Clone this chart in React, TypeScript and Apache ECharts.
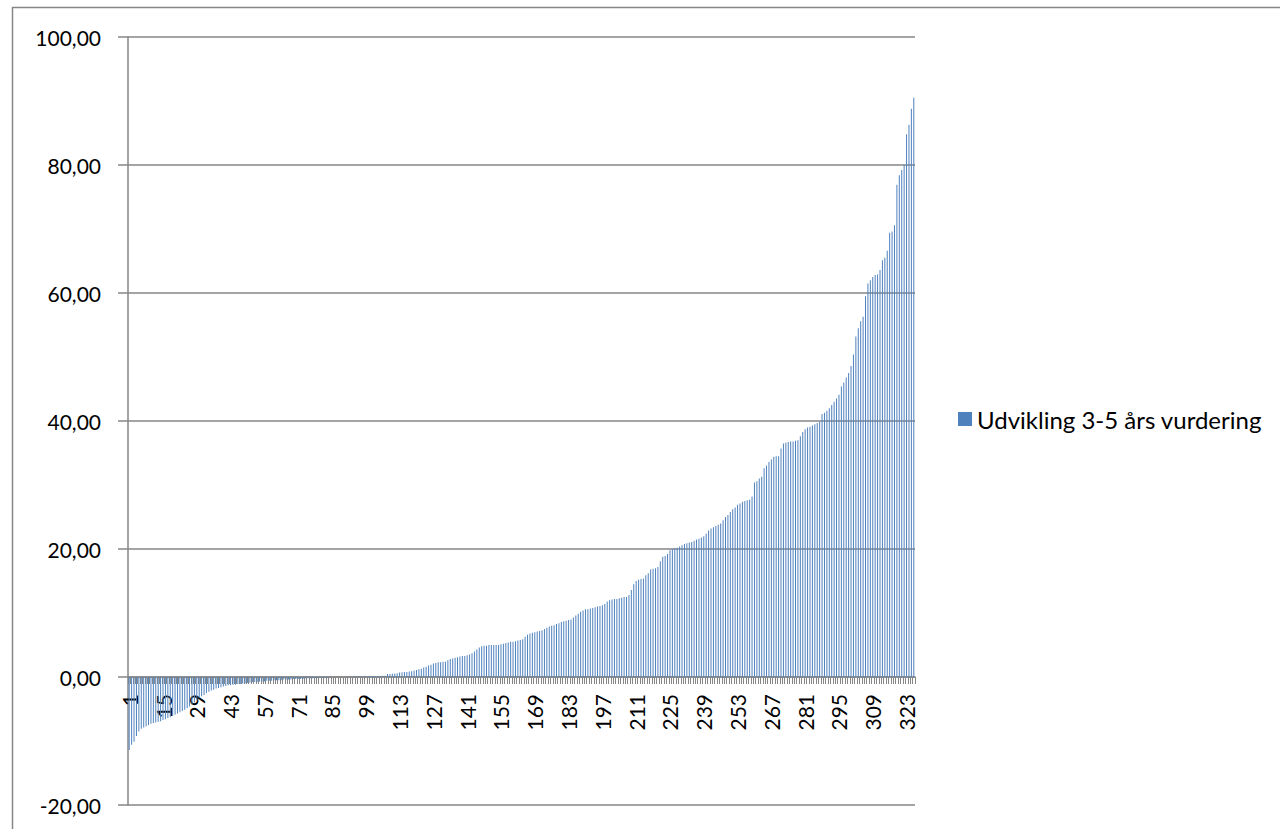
import React, { useEffect, useRef } from "react";
import * as echarts from "echarts";

const seriesName = "Udvikling 3-5 års vurdering";

const values: number[] = [
  -11.4, -10.6, -10.1, -9.2, -8.5, -8.1, -7.9, -7.7, -7.5, -7.3,
  -7.2, -7.1, -7.0, -6.9, -6.7, -6.6, -6.4, -6.3, -6.1, -5.9,
  -5.7, -5.5, -5.3, -5.1, -4.9, -4.6, -4.3, -4.0, -3.6, -3.3,
  -3.0, -2.8, -2.5, -2.3, -2.1, -2.0, -1.8, -1.7, -1.6, -1.5,
  -1.4, -1.3, -1.3, -1.2, -1.2, -1.1, -1.1, -1.0, -1.0, -0.9,
  -0.9, -0.8, -0.8, -0.8, -0.7, -0.7, -0.7, -0.6, -0.6, -0.6,
  -0.5, -0.5, -0.5, -0.5, -0.4, -0.4, -0.4, -0.4, -0.3, -0.3,
  -0.3, -0.3, -0.3, -0.2, -0.2, -0.2, -0.2, -0.2, -0.1, -0.1,
  -0.1, -0.1, -0.1, -0.1, 0, 0, 0, 0, 0, 0,
  0.05, 0.05, 0.05, 0.1, 0.1, 0.1, 0.1, 0.1, 0.12, 0.12,
  0.15, 0.15, 0.15, 0.15, 0.15, 0.2, 0.2, 0.45, 0.47, 0.5,
  0.55, 0.6, 0.7, 0.75, 0.8, 0.8, 0.85, 0.9, 1.0, 1.1,
  1.2, 1.3, 1.5, 1.6, 1.8, 1.9, 2.1, 2.2, 2.3, 2.3,
  2.4, 2.4, 2.6, 2.8, 2.9, 3.0, 3.1, 3.2, 3.3, 3.3,
  3.4, 3.5, 3.7, 4.0, 4.3, 4.6, 4.8, 4.9, 4.9, 5.0,
  5.0, 5.0, 5.0, 5.0, 5.1, 5.2, 5.3, 5.4, 5.5, 5.5,
  5.6, 5.7, 5.8, 5.9, 6.3, 6.6, 6.8, 6.9, 7.0, 7.1,
  7.2, 7.3, 7.5, 7.7, 7.9, 8.0, 8.1, 8.3, 8.4, 8.6,
  8.7, 8.8, 8.9, 9.0, 9.3, 9.6, 9.9, 10.2, 10.4, 10.6,
  10.6, 10.7, 10.8, 10.9, 11.0, 11.1, 11.2, 11.4, 11.8, 12.0,
  12.1, 12.2, 12.2, 12.3, 12.4, 12.5, 12.5, 12.8, 13.6, 14.5,
  15.0, 15.2, 15.3, 15.4, 15.9, 16.2, 16.8, 16.9, 17.0, 17.2,
  18.1, 18.8, 18.9, 19.2, 19.8, 20.0, 20.1, 20.2, 20.4, 20.6,
  20.8, 20.9, 21.0, 21.1, 21.3, 21.5, 21.6, 21.8, 22.0, 22.4,
  22.9, 23.2, 23.4, 23.6, 23.8, 24.0, 24.5, 25.0, 25.3, 25.8,
  26.2, 26.5, 26.9, 27.1, 27.4, 27.5, 27.6, 27.7, 28.2, 30.4,
  30.6, 31.0, 31.3, 32.6, 33.0, 33.6, 34.0, 34.4, 34.5, 34.5,
  35.7, 36.5, 36.6, 36.7, 36.8, 36.8, 36.9, 37.0, 37.6, 38.3,
  38.7, 39.0, 39.1, 39.3, 39.5, 39.7, 39.9, 41.1, 41.3, 41.6,
  42.0, 42.5, 43.0, 43.5, 44.1, 45.4, 46.0, 46.8, 47.5, 48.6,
  50.4, 53.2, 54.5, 55.6, 56.3, 59.5, 61.5, 62.0, 62.5, 62.8,
  62.9, 63.6, 65.1, 65.5, 66.6, 69.4, 69.6, 70.6, 76.9, 78.4,
  79.2, 80.0, 84.8, 86.3, 88.8, 90.5,
];

const categories: string[] = values.map((_, i) => String(i + 1));

const yMin = -20;
const yMax = 100;
const yStep = 20;

const FONT = "Lato, 'Open Sans', sans-serif";
const AXIS_GREY = "#868686";

const GRID_TOP = 37;
const GRID_BOTTOM = 24;
const CHART_H = 829;
const PLOT_H = CHART_H - GRID_TOP - GRID_BOTTOM;
// category axis sits on the value axis' zero line
const zeroOffset = -((0 - yMin) / (yMax - yMin)) * PLOT_H;

export default function App() {
  const ref = useRef<HTMLDivElement>(null);

  useEffect(() => {
    if (!ref.current) return;
    const chart = echarts.init(ref.current, undefined, { renderer: "svg" });
    chart.setOption({
      animation: false,
      backgroundColor: "#ffffff",
      graphic: [
        {
          type: "rect",
          shape: { x: 12.5, y: 7.5, width: 1400, height: 900 },
          style: { fill: "none", stroke: AXIS_GREY, lineWidth: 1.5 },
          silent: true,
        },
      ],
      legend: {
        show: true,
        left: 958,
        top: 407,
        padding: 0,
        itemWidth: 14,
        itemHeight: 14,
        icon: "rect",
        textStyle: { fontFamily: FONT, fontSize: 24, color: "#000" },
        data: [seriesName],
      },
      grid: {
        left: 128,
        right: 365,
        top: GRID_TOP,
        bottom: GRID_BOTTOM,
        containLabel: false,
        outerBoundsMode: "none",
      },
      xAxis: {
        type: "category",
        data: categories,
        offset: zeroOffset,
        axisLine: { show: true, onZero: false, lineStyle: { color: AXIS_GREY, width: 1.5 } },
        axisTick: {
          show: true,
          interval: 0,
          length: 7,
          alignWithLabel: false,
          lineStyle: { color: AXIS_GREY, width: 1 },
        },
        axisLabel: {
          interval: 13,
          rotate: 90,
          margin: 17,
          fontFamily: FONT,
          fontSize: 21,
          color: "#000",
        },
        splitLine: { show: false },
      },
      yAxis: {
        type: "value",
        min: yMin,
        max: yMax,
        interval: yStep,
        axisLine: { show: true, lineStyle: { color: AXIS_GREY, width: 1.5 } },
        axisTick: { show: true, length: 10, lineStyle: { color: AXIS_GREY, width: 1.5 } },
        axisLabel: {
          margin: 27,
          fontFamily: FONT,
          fontSize: 21,
          color: "#000",
          formatter: (v: number) => v.toFixed(2).replace(".", ","),
        },
        splitLine: { show: true, lineStyle: { color: AXIS_GREY, width: 1.5 } },
      },
      series: [
        {
          name: seriesName,
          type: "bar",
          data: values,
          barWidth: 1,
          itemStyle: { color: "#4F81BD" },
        },
      ],
    });
    return () => chart.dispose();
  }, []);

  return (
    <div
      ref={ref}
      style={{ position: "absolute", left: 0, top: 0, width: 1280, height: CHART_H }}
    />
  );
}
